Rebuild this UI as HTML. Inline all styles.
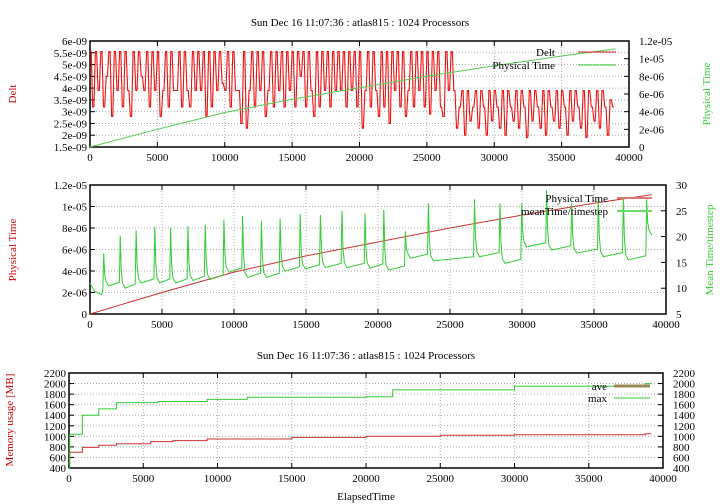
<!DOCTYPE html>
<html><head><meta charset="utf-8"><style>
body{margin:0;background:#fff}
svg{display:block;font-family:"Liberation Serif",serif;font-size:11px}
</style></head><body>
<svg id="c" width="720" height="504" xmlns="http://www.w3.org/2000/svg"></svg>
<script>
// ---- data ----
const delt = [5.55,3.2,5.55,3.9,5.55,3.2,4.5,5.55,2.8,5.55,3.9,5.55,3.2,5.55,3.9,2.8,5.55,3.9,5.55,4.5,3.9,5.55,3.2,5.55,3.9,5.55,2.8,3.9,5.55,3.2,5.55,3.9,3.9,5.55,3.2,5.55,3.9,3.2,5.55,3.9,5.55,3.9,5.55,2.8,5.55,3.2,5.55,3.9,5.55,4.2,3.9,5.55,3.2,5.55,3.9,3.9,2.5,5.55,2.3,3.9,5.55,3.2,5.55,3.9,5.55,2.8,3.9,5.55,3.2,5.55,3.9,5.55,3.2,5.55,3.9,5.55,3.2,5.55,4.5,5.55,3.2,5.55,3.9,2.8,5.55,3.2,5.55,3.9,5.55,3.2,5.55,3.9,5.55,3.9,5.55,3.2,5.55,3.9,5.55,3.2,5.55,2.3,3.9,5.55,3.2,5.55,3.9,2.8,5.55,3.2,5.55,2.5,5.55,3.9,5.55,3.2,5.55,2.8,3.9,5.55,3.2,5.55,3.9,5.55,3.2,5.55,2.9,5.55,3.9,5.55,3.2,2.8,5.55,3.9,5.55,
3.9,2.3,3.2,3.9,2.0,3.9,2.6,3.2,3.9,2.3,3.9,3.2,2.0,3.9,2.6,3.9,3.2,2.3,3.9,2.0,3.9,3.2,2.6,3.9,2.3,3.9,3.2,1.9,3.9,2.6,3.9,3.2,2.3,3.9,2.0,3.9,3.2,2.6,3.9,2.3,3.9,3.2,2.0,3.9,2.6,3.9,3.2,2.3,3.9,1.9,3.9,3.2,2.6,3.9,2.3,3.9,3.2,2.0,3.5,3.2];
const deltStep = 200;
const physX = [0,5000,10000,15000,20000,25000,30000,35000,39000];
const physY = [0,2.0e-6,3.9e-6,5.4e-6,6.7e-6,8.0e-6,9.2e-6,10.3e-6,11.1e-6];
const meanStartX = [0,300,800];
const meanStartY = [11,9.4,8.75];
const spikeX = [950,2100,3200,4500,5600,6800,8000,9300,10600,11900,13200,14600,16000,17500,19100,20400,21900,23500,26700,28470,29980,31710,33450,35300,37040,38660];
const spikePeak = [16.7,20.2,21.2,21.9,21.7,22,22.3,23.3,24,23.1,23.5,24.4,24.2,25,24.5,25.2,21,26.5,27.2,26.5,26.5,29,26.5,27.4,27.7,27.2];
const baseAfter = [10.4,10,11,11,11,11.5,11.7,13.1,12.1,12.1,13.3,13.75,14,14,13.9,13.5,15.8,15.3,16.1,14.8,18,17.4,16.8,16.1,15.5,20.3];
const memMaxX = [0,50,900,2000,3200,6000,9300,12000,20000,21800,30000,38800,39200];
const memMaxY = [400,1040,1400,1520,1640,1660,1700,1740,1750,1880,1950,2000,2000];
const memAveX = [0,50,900,2000,3200,5500,7000,9300,15000,20000,25000,30000,38800,39200];
const memAveY = [500,700,790,830,860,900,920,950,980,1000,1020,1030,1050,1050];

const svg = document.getElementById('c');
const NS = 'http://www.w3.org/2000/svg';
function mk(tag, attrs, parent){const e=document.createElementNS(NS,tag);for(const k in attrs)e.setAttribute(k,attrs[k]);(parent||svg).appendChild(e);return e;}
function txt(x,y,s,anchor,fill,rot){const t=mk('text',{x:x,y:y,'text-anchor':anchor||'middle',fill:fill||'#000'});if(rot)t.setAttribute('transform','rotate(-90 '+x+' '+y+')');t.textContent=s;return t;}
function lin(d0,d1,r0,r1){return v=>r0+(v-d0)/(d1-d0)*(r1-r0);}

function frame(name,L,R,T,B,xs,yTicks,yFmt,ys,rTicks,rFmt,rs){
  const g=mk('g',{});
  
  
  for(let v=0;v<=40000;v+=5000){const x=xs(v);
    if(v>0&&v<40000){mk('line',{x1:x,x2:x,y1:T,y2:B,stroke:'#aaa','stroke-dasharray':'1,2'},g);}
    mk('line',{x1:x,x2:x,y1:B,y2:B-5,stroke:'#000'},g);mk('line',{x1:x,x2:x,y1:T,y2:T+5,stroke:'#000'},g);
    const t=txt(x,B+14,String(v));
    
    
  }
  yTicks.forEach((v,i)=>{const y=ys(v);
    if(i>0&&i<yTicks.length-1)mk('line',{x1:L,x2:R,y1:y,y2:y,stroke:'#aaa','stroke-dasharray':'1,2'},g);
    mk('line',{x1:L,x2:L+5,y1:y,y2:y,stroke:'#000'},g);
    if(!rTicks)mk('line',{x1:R,x2:R-5,y1:y,y2:y,stroke:'#000'},g);
    const t=txt(L-3,y+4,yFmt(v),'end');
    
    
  });
  if(rTicks)rTicks.forEach(v=>{const y=rs(v);
    mk('line',{x1:R,x2:R-5,y1:y,y2:y,stroke:'#000'},g);
    const t=txt(R+10,y+4,rFmt(v),'start');
    
    
  });
  mk('rect',{x:L,y:T,width:R-L,height:B-T,fill:'none',stroke:'#000','stroke-width':1.5},g);
}
function poly(pts,color,name,w){const p=mk('polyline',{points:pts.map(q=>q[0].toFixed(1)+','+q[1].toFixed(1)).join(' '),fill:'none',stroke:color,'stroke-width':w||1});
  
  
  return p;}
function stepPts(X,Y,xs,ys){const p=[];for(let i=0;i<X.length;i++){if(i>0)p.push([xs(X[i]),ys(Y[i-1])]);p.push([xs(X[i]),ys(Y[i])]);}return p;}
function legend(xText,xl0,xl1,y,s,color,w){
  const t=txt(xText,y+4,s,'end');
  
  
  const l=mk('line',{x1:xl0,x2:xl1,y1:y,y2:y,stroke:color,'stroke-width':w||1});
  
  
}

const title='Sun Dec 16 11:07:36 : atlas815 : 1024 Processors';
// ---- top chart ----
{const L=90,R=629,T=41,B=147;
 const xs=lin(0,40000,L,R), ys=lin(1.5,6,B,T), rs=lin(0,1.2e-5,B,T);
 const t=txt(360,26,title);
 frame('top-frame',L,R,T,B,xs,[1.5,2,2.5,3,3.5,4,4.5,5,5.5,6],v=>v+'e-09',ys,[0,2e-6,4e-6,6e-6,8e-6,1e-5,1.2e-5],v=>v==0?'0':(v>=1e-5?(v/1e-5).toFixed(v==1e-5?0:1)+'e-05':(v/1e-6)+'e-06'),rs);
 const dp=[];delt.forEach((v,i)=>{const x0=xs(i*deltStep),x1=xs(i*deltStep+deltStep*0.45);dp.push([x0,ys(v)]);dp.push([x1,ys(v)]);});
 poly(dp,'#ee1111','delt-series',1.1);
 poly(physX.map((v,i)=>[xs(v),rs(physY[i])]),'#55cc55','physical-time-series-top');
 legend(555,578,616,52,'Delt','#cc2222');legend(555,578,616,65,'Physical Time','#33cc33');
 let a=txt(16,94,'Delt','middle','#cc0000',true);
 a=txt(710,94,'Physical Time','middle','#33cc33',true);
}
// ---- middle chart ----
{const L=90,R=666,T=185,B=314;
 const xs=lin(0,40000,L,R), ys=lin(0,1.2e-5,B,T), rs=lin(5,30,B,T);
 frame('middle-frame',L,R,T,B,xs,[0,2e-6,4e-6,6e-6,8e-6,1e-5,1.2e-5],v=>v==0?'0':(v>=1e-5?(v/1e-5).toFixed(v==1e-5?0:1)+'e-05':(v/1e-6)+'e-06'),ys,[5,10,15,20,25,30],v=>String(v),rs);
 poly(physX.map((v,i)=>[xs(v),ys(physY[i])]),'#cc3333','physical-time-series');
 const pts=meanStartX.map((v,i)=>[xs(v),rs(meanStartY[i])]);
 let prev=meanStartY[meanStartY.length-1];
 spikeX.forEach((sx,i)=>{const b=baseAfter[i];pts.push([xs(sx-60),rs(prev+0.8)]);pts.push([xs(sx),rs(spikePeak[i])]);pts.push([xs(sx+70),rs(b+(spikePeak[i]-b)*0.35)]);pts.push([xs(sx+160),rs(b+1)]);pts.push([xs(sx+350),rs(b)]);prev=b;});
 poly(pts,'#33cc33','mean-time-per-timestep-series');
 legend(608,617,652,198,'Physical Time','#dd7777',2);legend(608,617,652,211,'meanTime/timestep','#66dd66',2);
 let a=txt(16,250,'Physical Time','middle','#cc0000',true);
 a=txt(713,250,'Mean Time/timestep','middle','#33cc33',true);
}
// ---- bottom chart ----
{const L=69,R=663,T=373,B=468;
 const xs=lin(0,40000,L,R), ys=lin(400,2200,B,T);
 const t=txt(366,359,title);
 const tk=[400,600,800,1000,1200,1400,1600,1800,2000,2200];
 frame('bottom-frame',L,R,T,B,xs,tk,v=>String(v),ys,tk,v=>String(v),ys);
 poly(stepPts(memAveX,memAveY,xs,ys),'#cc3333','ave-memory-series');
 poly(stepPts(memMaxX,memMaxY,xs,ys),'#33cc33','max-memory-series');
 legend(607,614,650,386,'ave','#998855',3);legend(607,614,650,398,'max','#33cc33');
 let a=txt(13,420,'Memory usage [MB]','middle','#cc0000',true);
 a=txt(366,500,'ElapsedTime');
}
</script>
</body></html>
